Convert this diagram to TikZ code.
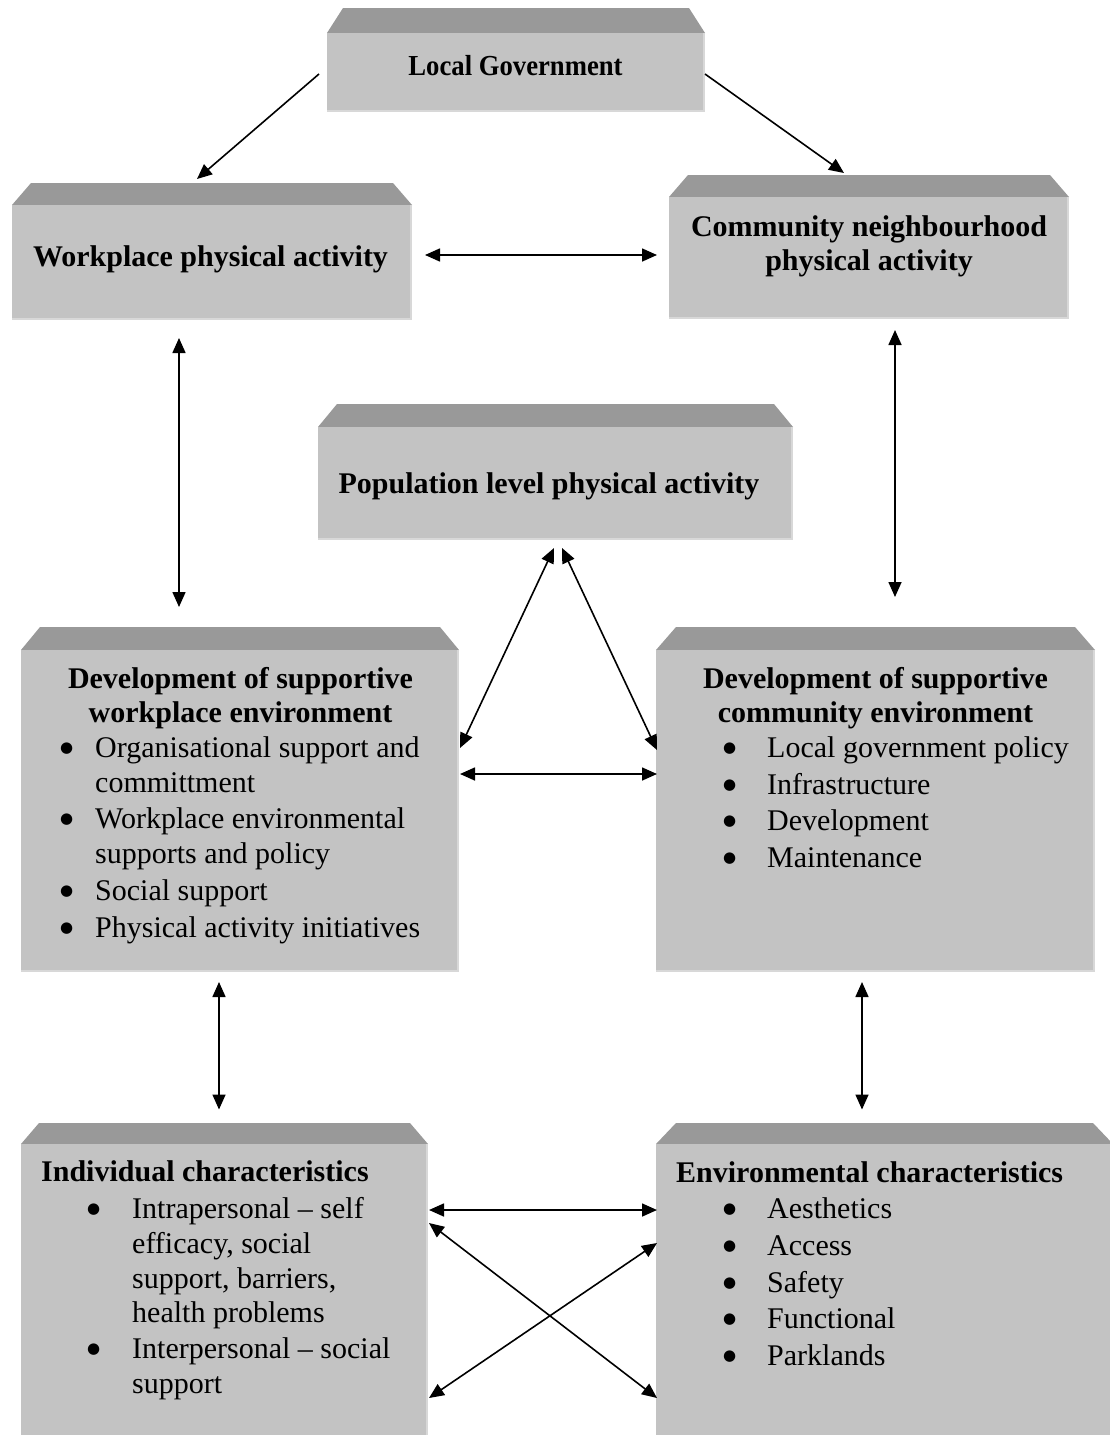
\documentclass[tikz,border=0pt]{standalone}
\usepackage{fontspec}
\setmainfont{Liberation Serif}
\newfontfamily\symfont{DejaVu Sans}
\usetikzlibrary{arrows.meta,calc}
\definecolor{facec}{HTML}{C3C3C3}
\definecolor{bevelc}{HTML}{999999}
\definecolor{edgec}{HTML}{D8D8D8}
\newcommand\bodyfont{\fontsize{30}{34}\selectfont}
\newcommand\hdfont{\fontsize{30}{34}\selectfont\bfseries}
\newcommand\lgfont{\fontsize{29}{34}\selectfont\bfseries}
\newcommand\bul{{\symfont\fontsize{15}{15}\selectfont ●}}
% name, x1, y1, x2, y2, inset, bevel height
\newcommand\mybox[7]{%
  \fill[bevelc] (#2,#3) -- (#2+#6,#3-#7) -- (#4-#6,#3-#7) -- (#4,#3) -- cycle;
  \node[face, minimum width=#4-#2, minimum height=#5-#3, anchor=north west] (#1) at (#2,#3) {};
  \fill[edgec] ($(#1.north east)+(-2.5,0)$) rectangle (#1.south east);
  \fill[edgec] ($(#1.south west)+(0,-2.5)$) rectangle (#1.south east);
}
\tikzset{
  face/.style={fill=facec, draw=none, inner sep=0pt, outer sep=0pt},
  tip/.tip={Triangle[length=15pt,width=13pt]},
  conn/.style={line width=1.6pt, -tip},
  dconn/.style={line width=1.6pt, tip-tip},
  hd/.style={font=\hdfont, inner sep=0pt, anchor=base},
  hdl/.style={font=\hdfont, inner sep=0pt, anchor=base west},
  body/.style={font=\bodyfont, inner sep=0pt, anchor=base west},
  bl/.style={inner sep=0pt, anchor=base west, yshift=5pt},
}
\begin{document}
\begin{tikzpicture}[x=1pt,y=-1pt]
\useasboundingbox[fill=white] (0,0) rectangle (1109,1435);

% boxes
\mybox{lg}{327}{33}{705}{112}{16}{25}
\mybox{wp}{12}{205}{412}{320}{19}{22}
\mybox{cn}{669}{197}{1069}{319}{19}{22}
\mybox{pop}{318}{427}{793}{540}{19}{23}
\mybox{dw}{21}{650}{459}{972}{19}{23}
\mybox{dc}{656}{650}{1095}{972}{20}{23}
\mybox{ic}{21}{1144}{428}{1438}{18}{21}
\mybox{ec}{656}{1144}{1113}{1438}{20}{21}

% headings
\node[font=\lgfont, inner sep=0pt, anchor=base] (lgt) at (515.5,75) {\scalebox{0.92}[1]{Local Government}};
\node[hd] (wpt) at (210.5,266.5) {Workplace physical activity};
\node[hd] (cnt1) at (869,236.5) {Community neighbourhood};
\node[hd] (cnt2) at (869,270) {physical activity};
\node[hd] (popt) at (549,493) {Population level physical activity};
\node[hd] (dwt1) at (240.5,688) {Development of supportive};
\node[hd] (dwt2) at (240.5,722) {workplace environment};
\node[hd] (dct1) at (875.5,688) {Development of supportive};
\node[hd] (dct2) at (875.5,722) {community environment};
\node[hdl] (ict) at (41,1181) {Individual characteristics};
\node[hdl] (ect) at (676,1182) {Environmental characteristics};

% workplace environment list
\node[bl] (dwb1) at (60,757) {\bul};
\node[body] (dwl1) at (95,757) {Organisational support and};
\node[body] (dwl2) at (95,792) {committment};
\node[bl] (dwb2) at (60,828) {\bul};
\node[body] (dwl3) at (95,828) {Workplace environmental};
\node[body] (dwl4) at (95,863) {supports and policy};
\node[bl] (dwb3) at (60,900) {\bul};
\node[body] (dwl5) at (95,900) {Social support};
\node[bl] (dwb4) at (60,937) {\bul};
\node[body] (dwl6) at (95,937) {Physical activity initiatives};

% community environment list
\node[bl] (dcb1) at (723,757) {\bul};
\node[body] (dcl1) at (767,757) {Local government policy};
\node[bl] (dcb2) at (723,794) {\bul};
\node[body] (dcl2) at (767,794) {Infrastructure};
\node[bl] (dcb3) at (723,830) {\bul};
\node[body] (dcl3) at (767,830) {Development};
\node[bl] (dcb4) at (723,867) {\bul};
\node[body] (dcl4) at (767,867) {Maintenance};

% individual list
\node[bl] (icb1) at (87,1218) {\bul};
\node[body] (icl1) at (132,1218) {Intrapersonal -- self};
\node[body] (icl2) at (132,1253) {efficacy, social};
\node[body] (icl3) at (132,1288) {support, barriers,};
\node[body] (icl4) at (132,1322) {health problems};
\node[bl] (icb2) at (87,1358) {\bul};
\node[body] (icl5) at (132,1358) {Interpersonal -- social};
\node[body] (icl6) at (132,1393) {support};

% environmental list
\node[bl] (ecb1) at (723,1218) {\bul};
\node[body] (ecl1) at (767,1218) {Aesthetics};
\node[bl] (ecb2) at (723,1255) {\bul};
\node[body] (ecl2) at (767,1255) {Access};
\node[bl] (ecb3) at (723,1292) {\bul};
\node[body] (ecl3) at (767,1292) {Safety};
\node[bl] (ecb4) at (723,1328) {\bul};
\node[body] (ecl4) at (767,1328) {Functional};
\node[bl] (ecb5) at (723,1365) {\bul};
\node[body] (ecl5) at (767,1365) {Parklands};

% connectors
\draw[conn] ($(lg.west)+(-8,1.5)$) -- ($(wp.north)+(-15,-26)$);
\draw[conn] ($(lg.east)+(0,1.5)$) -- ($(cn.north)+(-25,-24)$);
\draw[dconn] ($(wp.east)+(13,-7.5)$) -- ($(cn.west)+(-12,-3)$);
\draw[dconn] ($(wp.south)+(-33,18)$) -- ($(dw.north)+(-61,-43)$);
\draw[dconn] ($(cn.south)+(26,11)$) -- ($(dc.north)+(19.5,-53)$);
\draw[dconn] ($(pop.south)+(-1.5,8)$) -- ($(dw.east)+(1,-63)$);
\draw[dconn] ($(pop.south)+(6.5,8)$) -- ($(dc.west)+(1,-61)$);
\draw[dconn] ($(dw.east)+(1,-37)$) -- ($(dc.west)+(1,-37)$);
\draw[dconn] ($(dw.south)+(-21,10)$) -- ($(ic.north)+(-5.5,-34.5)$);
\draw[dconn] ($(dc.south)+(-13.5,10)$) -- ($(ec.north)+(-22.5,-34.5)$);
\draw[dconn] ($(ic.east)+(1,-81)$) -- ($(ec.west)+(1,-81)$);
\draw[dconn] ($(ic.east)+(1,-68)$) -- ($(ec.west)+(1,107)$);
\draw[dconn] ($(ec.west)+(1,-48)$) -- ($(ic.east)+(1,107)$);
\end{tikzpicture}
\end{document}
